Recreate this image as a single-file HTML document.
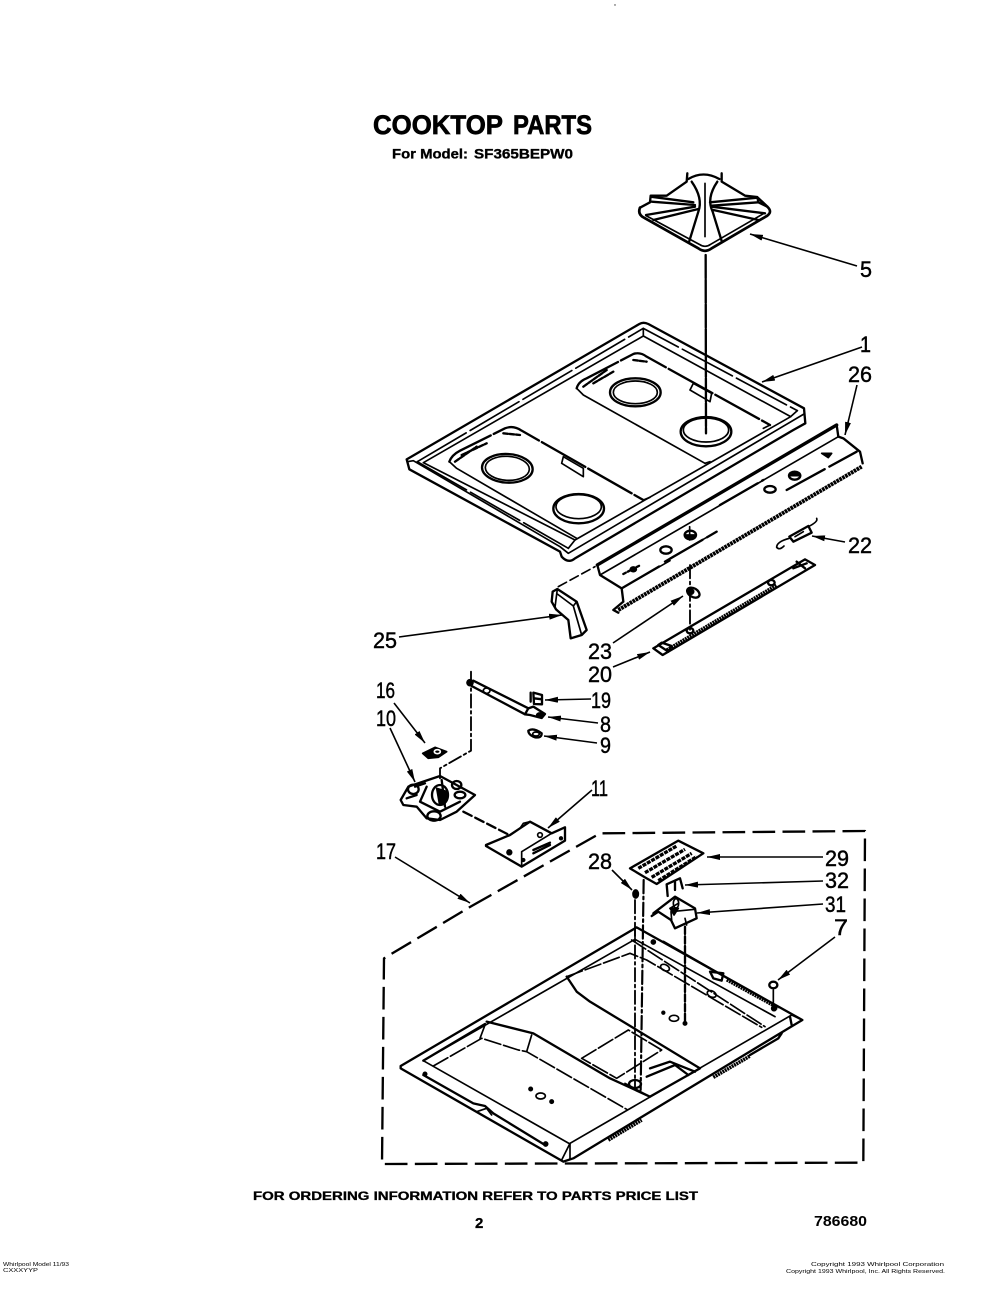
<!DOCTYPE html>
<html><head><meta charset="utf-8"><title>Cooktop Parts</title>
<style>
html,body{margin:0;padding:0;background:#fff}
svg{display:block}
text{font-family:"Liberation Sans",sans-serif;fill:#000}
.l{font-size:22px;stroke:#000;stroke-width:.45px}
.z path,.z ellipse,.z circle{fill:none;stroke:#000;stroke-width:5;stroke-linejoin:round;stroke-linecap:round}
.z .f{fill:#000}
.z .t{stroke-width:7}
.z .h{stroke-width:9;stroke-dasharray:6 2;stroke-linecap:butt}
.z .d{stroke-dasharray:28 12}
.z .dd{stroke-width:5.5;stroke-dasharray:40 10 8 10}
.z .s{stroke-dasharray:50 9}
.a path{fill:none;stroke:#000;stroke-width:1.6;marker-end:url(#a)}
</style></head>
<body>
<svg width="1000" height="1297" viewBox="0 0 1000 1297" xmlns="http://www.w3.org/2000/svg">
<defs><marker id="a" markerUnits="userSpaceOnUse" viewBox="0 0 13 6" refX="13" refY="3" markerWidth="13" markerHeight="6" orient="auto"><path d="M0 0L13 3L0 6z" fill="#000" stroke="none"/></marker></defs>
<rect width="1000" height="1297" fill="#fff"/>
<circle cx="615" cy="5" r=".7" fill="#333"/>

<text x="373" y="134" font-size="26.5" font-weight="700" textLength="130" lengthAdjust="spacingAndGlyphs" stroke="#000" stroke-width=".7">COOKTOP</text>
<text x="513" y="134" font-size="26.5" font-weight="700" textLength="79" lengthAdjust="spacingAndGlyphs" stroke="#000" stroke-width=".7">PARTS</text>
<text x="392" y="158.5" font-size="14" font-weight="700" textLength="76" lengthAdjust="spacingAndGlyphs" stroke="#000" stroke-width=".35">For Model:</text>
<text x="474" y="158.5" font-size="14" font-weight="700" textLength="99" lengthAdjust="spacingAndGlyphs" stroke="#000" stroke-width=".35">SF365BEPW0</text>

<!-- grate -->
<g class="z" transform="translate(630 165) scale(.33333)">
 <path class="t" style="stroke-width:8" d="M30,128 Q22,148 42,158 L205,250 Q225,265 245,250 L412,152 Q428,140 412,125 L385,100"/>
 <path d="M48,152 L208,238 Q225,250 242,238 L402,145"/>
 <path class="t" d="M30,128 L60,112 L62,92 L110,92 L170,50 L172,25 M175,42 Q220,15 268,42 M275,25 L275,50 L345,92 L382,96 L385,112 L412,125"/>
 <path class="t" d="M65,110 L195,120 M62,95 L190,112 M382,98 L240,112 M385,112 L245,122"/>
 <path class="t" d="M48,150 L195,125 M70,165 L205,132 M405,145 L245,125 M385,165 L250,135"/>
 <path class="t" d="M185,50 Q220,100 205,140 L178,228 M262,50 Q228,100 248,140 L275,228"/>
 <path d="M225,55 L225,215"/>
</g>

<!-- upper: cooktop -->
<g class="z" transform="translate(380 160) scale(.33333)">
 <path class="t" style="stroke-dasharray:70 4" d="M977,285 L978,820"/>

 <path class="t" d="M80,898 L778,492 Q790,485 805,492 L1272,745 L1276,790 L1240,810 L585,1195 Q565,1212 545,1190 L540,1175 L88,928 Z"/>
 <path d="M82,905 L100,902 L540,1160 L565,1180 L1272,762"/>
 <path class="s" style="stroke-dasharray:170 14" d="M112,905 L790,505 L1252,752"/>
 <path class="s" style="stroke-dasharray:170 14" d="M112,905 L565,1165"/>
 <path d="M130,908 L790,528 L1232,770 L585,1140 Z"/>
 <path d="M790,505 L790,528 M1232,770 L1252,752 M565,1165 L585,1140"/>
 <!-- recesses -->
 <path class="t" style="stroke-dasharray:150 10" d="M208,905 Q215,885 240,872 L375,805 Q400,795 425,812 L790,1020"/>
 <path d="M208,905 L230,925 L590,1135"/>
 <path class="t" style="stroke-dasharray:150 10" d="M590,685 Q595,665 620,655 L760,582 Q780,575 800,590 L1170,795"/>
 <path d="M590,685 L610,705 L975,910"/>
 <path d="M790,1020 L810,1012 M975,910 L990,905 M1170,795 L1150,805"/>
 <path class="t" style="stroke-dasharray:14 5" d="M225,905 L290,860 M245,885 L320,850 M370,820 L420,825 M610,680 L680,630 M640,670 L700,635 M760,600 L800,605"/>
 <path d="M545,910 L610,950 L610,925 L550,890 Z M930,690 L990,725 L995,700 L940,670 Z"/>
 <ellipse class="t" cx="382" cy="925" rx="76" ry="43" transform="rotate(3 382 925)"/>
 <ellipse cx="382" cy="925" rx="66" ry="36" transform="rotate(3 382 925)"/>
 <ellipse class="t" cx="596" cy="1046" rx="76" ry="44"/>
 <ellipse cx="596" cy="1040" rx="68" ry="36"/>
 <ellipse class="t" cx="766" cy="697" rx="76" ry="42"/>
 <ellipse cx="766" cy="697" rx="66" ry="34"/>
 <ellipse class="t" cx="978" cy="815" rx="76" ry="44"/>
 <ellipse cx="978" cy="810" rx="68" ry="36"/>
</g>

<!-- rail -->
<g class="z" transform="translate(590 420) scale(.33333)">
 <path class="t" style="stroke-width:10" d="M22,435 L740,15"/>
 <path class="t" d="M22,435 L30,465 L95,505 L100,545 L70,570 L85,578 M740,15 L745,50 L760,55 L810,95 L818,130"/>
 <path d="M30,465 L745,50"/>
 <path class="t" style="stroke-dasharray:130 16" d="M95,505 L220,432 M225,425 L380,335 M390,255 L520,180 M590,210 L800,95"/>
 <path class="h" style="stroke-width:12;stroke-dasharray:8 2" d="M85,570 L815,140"/>
 <path d="M95,505 L240,422 M240,415 L380,335"/>
 <ellipse class="t" cx="614" cy="167" rx="17" ry="12"/>
 <path class="f" d="M600,167 L628,167 L614,155 Z"/>
 <ellipse class="t" cx="540" cy="208" rx="17" ry="10"/>
 <ellipse class="t" cx="301" cy="345" rx="17" ry="13"/>
 <path class="f" d="M284,345 L318,345 L301,358 Z"/>
 <path d="M299,320 L299,360"/>
 <ellipse class="t" cx="228" cy="390" rx="17" ry="11"/>
 <path class="f" d="M695,100 L725,100 L715,113 Z"/>
 <path class="t" style="stroke-dasharray:8 7" d="M100,462 L150,436"/>
 <ellipse class="f" cx="130" cy="448" rx="9" ry="7"/>
 <!-- 22 spring -->
 <path class="t" d="M598,350 L655,318 L665,338 L610,365 Z"/>
 <path d="M598,355 Q560,365 560,382 Q568,392 582,378 M655,320 Q685,305 680,295"/>
 <path d="M615,350 L640,335"/>
</g>

<!-- middle -->
<g class="z" transform="translate(360 520) scale(.33333)">
 <path class="d" d="M595,200 L705,140"/>
 <!-- 25 -->
 <path class="t" d="M578,215 L592,207 L650,245 L680,330 L665,345 L632,355 L625,300 L588,268 L575,245 Z"/>
 <path d="M592,207 L585,262 M650,245 L640,258 L665,345 M640,258 L592,222"/>
 <!-- 23 washer + bar -->
 <path class="dd" d="M990,135 L990,330"/>
 <ellipse class="t" cx="1000" cy="218" rx="20" ry="13" transform="rotate(30 1000 218)"/>
 <ellipse class="f" cx="992" cy="215" rx="9" ry="8"/>
 <path class="t" d="M880,385 L1335,118 L1365,135 L908,405 Z"/>
 <path class="h" style="stroke-width:10" d="M920,390 L1250,195"/>
 <path class="t" d="M895,375 L925,395 L935,378 L905,368 Z M1300,145 L1340,130 M1310,125 L1335,145"/>
 <ellipse class="t" cx="1234" cy="188" rx="10" ry="8"/>
 <ellipse class="t" cx="990" cy="332" rx="10" ry="8"/>
 <!-- igniter -->
 <path class="dd" d="M333,455 L333,692 L240,745 L240,775"/>
 <ellipse class="f" cx="330" cy="488" rx="9" ry="9"/>
 <path class="t" d="M340,482 L505,565 L495,583 L335,498"/>
 <ellipse cx="380" cy="512" rx="10" ry="8"/>
 <path class="t" d="M505,565 L520,560 L555,582 L545,594 L510,585 L495,583"/>
 <ellipse class="f" cx="540" cy="585" rx="10" ry="6"/>
 <path class="t" d="M512,518 L512,545 M520,518 L546,525 L546,553 L522,552 Z M522,535 L546,538"/>
 <path class="t" d="M505,632 Q520,622 545,640 Q545,655 525,652 Q505,645 505,632 Z"/>
 <ellipse cx="528" cy="642" rx="10" ry="6"/>
 <!-- 16 -->
 <path class="f" d="M188,700 L225,682 L260,695 L235,712 L205,715 Z"/>
 <ellipse cx="232" cy="695" rx="9" ry="6" style="stroke:#fff"/>
 <!-- 10 valve -->
 <path class="t" d="M122,840 L145,800 L240,768 L345,825 L290,875 L240,900 L200,895 L170,860 L130,855 Z"/>
 <ellipse class="t" cx="160" cy="808" rx="16" ry="14"/>
 <ellipse class="t" cx="240" cy="825" rx="24" ry="30"/>
 <ellipse class="t" cx="222" cy="888" rx="20" ry="14"/>
 <ellipse class="t" cx="300" cy="825" rx="16" ry="10"/>
 <ellipse class="t" cx="290" cy="795" rx="14" ry="12"/>
 <path class="t" d="M200,800 L180,845 L240,875 L300,845 M245,780 L255,860 M195,790 L165,800 M140,835 L170,825"/>
 <path class="f" d="M230,805 L262,815 L255,850 L238,850 Z"/>
 <path class="t d" d="M310,875 L448,945"/>
 <!-- 11 -->
 <path class="t" d="M378,975 L450,945 L480,925 L510,905 L575,940 L615,922 L615,962 L485,1040 L378,978 Z"/>
 <path d="M575,940 L485,995 L485,1040 M480,925 L490,910 L510,905"/>
 <circle class="f" cx="448" cy="997" r="7"/>
 <circle cx="540" cy="945" r="7"/>
 <path class="t" d="M520,990 L570,968 M520,1000 L570,975"/>
 <circle class="f" cx="490" cy="1020" r="4"/>
 <circle class="f" cx="603" cy="955" r="4"/>
</g>

<!-- lower -->
<g class="z" transform="translate(370 820) scale(.33333)">
 <path class="t d" style="stroke-dasharray:68 22;stroke-linecap:butt" d="M305,258 L690,40 L1485,33 L1480,1028 L36,1032 L42,415 L305,258"/>
 <!-- pan -->
 <path class="t" d="M92,738 L800,322 L1297,600 L1260,622 L610,1015 L580,1025 L92,745 Z"/>
 <path d="M1265,585 L1297,600 M1265,585 L600,970 L600,1015 M600,970 L575,1020"/>
 <path class="t" d="M1260,590 L1265,615"/>
 <path d="M160,722 L795,358 L1215,590 M160,722 L600,972 M795,322 L795,358"/>
 <path class="s" d="M190,738 L335,655 L445,690 L470,695 L770,868"/>
 <path class="t" d="M345,612 L160,722 M350,605 L490,640 L720,775 L840,830"/>
 <path d="M345,615 L330,655 M485,645 L470,695"/>
 <path class="s" d="M785,360 L1185,620"/>
 <path class="s" d="M590,470 L780,400 L830,420 L1175,622"/>
 <path class="t" d="M590,470 L620,515 L660,545 L990,745 M990,745 L840,830"/>
 <path class="s" d="M635,715 L775,630 L875,690 L740,775 L635,715"/>
 <path class="t" d="M840,745 L900,725 L975,755 M830,770 L915,735 L955,765"/>
 <ellipse cx="512" cy="828" rx="14" ry="9"/>
 <circle class="f" cx="482" cy="807" r="5"/>
 <circle class="f" cx="545" cy="845" r="5"/>
 <ellipse cx="912" cy="595" rx="14" ry="9"/>
 <circle class="f" cx="880" cy="578" r="4"/>
 <circle class="f" cx="945" cy="610" r="5"/>
 <ellipse cx="885" cy="443" rx="14" ry="9" transform="rotate(25 885 443)"/>
 <ellipse cx="1025" cy="522" rx="14" ry="9" transform="rotate(25 1025 522)"/>
 <circle class="f" cx="850" cy="366" r="6"/>
 <circle class="f" cx="1212" cy="565" r="7"/>
 <path class="t" d="M1020,455 L1060,460 L1055,482 L1030,475 Z"/>
 <path class="h" d="M1070,480 L1225,565"/>
 <path class="t" d="M880,365 L1020,445"/>
 <!-- under lips -->
 <path class="t" d="M160,765 L310,850 L345,858 L370,880 L520,972"/>
 <path d="M320,875 L350,865 L365,885"/>
 <circle class="f" cx="527" cy="972" r="6"/>
 <circle class="f" cx="165" cy="762" r="5"/>
 <path class="h" style="stroke-width:11" d="M715,960 L815,900 M1030,772 L1140,708"/>
 <path class="t" d="M1140,705 L1225,655 L1235,640"/>
 <!-- stems -->
 <path class="dd" d="M795,240 L795,800"/>
 <path class="dd" style="stroke-width:6.5" d="M821,180 L812,810"/>
 <path class="t" style="stroke-dasharray:22 7" d="M945,320 L945,610"/>
 <path d="M1210,510 L1210,565"/>
 <ellipse class="t" cx="795" cy="792" rx="18" ry="12"/>
 <path d="M765,790 L830,825"/>
 <ellipse class="f" cx="797" cy="222" rx="8" ry="12"/>
 <ellipse class="t" cx="1210" cy="495" rx="12" ry="10"/>
 <!-- 29 -->
 <path class="t" d="M780,145 L925,62 L1000,100 L860,192 L825,172 Z"/>
 <path class="h" style="stroke-width:10;stroke-dasharray:12 3" d="M805,145 L920,78 M825,158 L945,88 M845,172 L965,100 M865,182 L980,110"/>
 <!-- 32 -->
 <path class="t" d="M893,228 L890,193 L930,175 L938,205 M915,185 L915,210"/>
 <!-- 31 -->
 <path class="t" d="M850,280 L915,230 L975,265 L980,295 L915,325 L903,300 L865,275 L845,288"/>
 <path d="M903,275 L975,268 M903,275 L905,300 M925,250 L900,265 M945,295 L950,315"/>
 <path class="f" d="M900,265 L925,265 L912,285 Z"/>
 <ellipse cx="918" cy="250" rx="8" ry="14"/>
</g>

<!-- leader arrows -->
<g class="a">
 <path d="M857,266L750,234"/>
 <path d="M862,347L762,382"/>
 <path d="M857,385L845,435"/>
 <path d="M845,542L812,536"/>
 <path d="M399,637L562,615"/>
 <path d="M613,643L683,596"/>
 <path d="M613,667L650,652"/>
 <path d="M591,699L545,700"/>
 <path d="M598,723L548,717"/>
 <path d="M597,743L544,736"/>
 <path d="M394,703L425,743"/>
 <path d="M390,728L415,782"/>
 <path d="M592,790L548,828"/>
 <path d="M395,857L470,903"/>
 <path d="M612,870L632,890"/>
 <path d="M823,857L707,857"/>
 <path d="M823,881L685,885"/>
 <path d="M823,904L697,913"/>
 <path d="M835,937L778,980"/>
</g>

<!-- labels -->
<g>
 <text class="l" x="860" y="277" textLength="12" lengthAdjust="spacingAndGlyphs">5</text>
 <text class="l" x="860" y="352" textLength="11" lengthAdjust="spacingAndGlyphs">1</text>
 <text class="l" x="848" y="382" textLength="24" lengthAdjust="spacingAndGlyphs">26</text>
 <text class="l" x="848" y="553" textLength="24" lengthAdjust="spacingAndGlyphs">22</text>
 <text class="l" x="373" y="648" textLength="24" lengthAdjust="spacingAndGlyphs">25</text>
 <text class="l" x="588" y="659" textLength="24" lengthAdjust="spacingAndGlyphs">23</text>
 <text class="l" x="588" y="682" textLength="24" lengthAdjust="spacingAndGlyphs">20</text>
 <text class="l" x="591" y="708" textLength="20" lengthAdjust="spacingAndGlyphs">19</text>
 <text class="l" x="600" y="732" textLength="11" lengthAdjust="spacingAndGlyphs">8</text>
 <text class="l" x="600" y="753" textLength="11" lengthAdjust="spacingAndGlyphs">9</text>
 <text class="l" x="376" y="698" textLength="19" lengthAdjust="spacingAndGlyphs">16</text>
 <text class="l" x="376" y="726" textLength="20" lengthAdjust="spacingAndGlyphs">10</text>
 <text class="l" x="591" y="796" textLength="17" lengthAdjust="spacingAndGlyphs">11</text>
 <text class="l" x="376" y="859" textLength="20" lengthAdjust="spacingAndGlyphs">17</text>
 <text class="l" x="588" y="869" textLength="24" lengthAdjust="spacingAndGlyphs">28</text>
 <text class="l" x="825" y="866" textLength="24" lengthAdjust="spacingAndGlyphs">29</text>
 <text class="l" x="825" y="888" textLength="24" lengthAdjust="spacingAndGlyphs">32</text>
 <text class="l" x="825" y="912" textLength="21" lengthAdjust="spacingAndGlyphs">31</text>
 <text class="l" x="834" y="935" textLength="14" lengthAdjust="spacingAndGlyphs">7</text>
</g>

<text x="253" y="1200" font-size="11.5" font-weight="700" textLength="445" lengthAdjust="spacingAndGlyphs" stroke="#000" stroke-width=".3">FOR ORDERING INFORMATION REFER TO PARTS PRICE LIST</text>
<text x="475" y="1228" font-size="15" font-weight="700" stroke="#000" stroke-width=".3">2</text>
<text x="814" y="1226" font-size="15" font-weight="700" textLength="53" lengthAdjust="spacingAndGlyphs">786680</text>
<text x="3" y="1266" font-size="5" textLength="66" lengthAdjust="spacingAndGlyphs" fill="#444">Whirlpool Model 11/93</text>
<text x="3" y="1272" font-size="5" textLength="35" lengthAdjust="spacingAndGlyphs" fill="#444">CXXXYYP</text>
<text x="811" y="1266" font-size="5.5" textLength="133" lengthAdjust="spacingAndGlyphs" fill="#444">Copyright 1993 Whirlpool Corporation</text>
<text x="786" y="1273" font-size="5.5" textLength="159" lengthAdjust="spacingAndGlyphs" fill="#444">Copyright 1993 Whirlpool, Inc. All Rights Reserved.</text>
</svg>
</body></html>
